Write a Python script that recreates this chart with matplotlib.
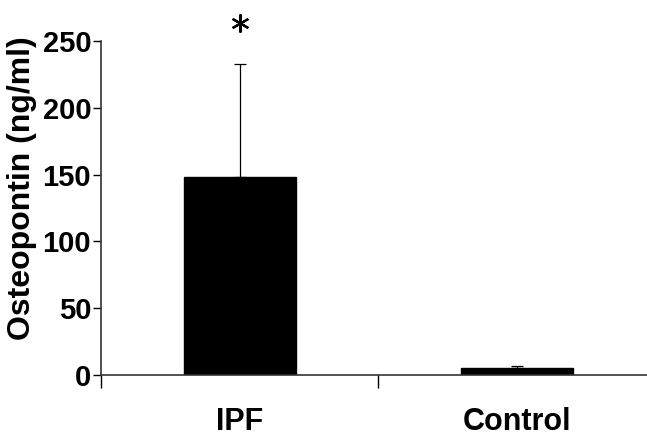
import matplotlib
matplotlib.use('Agg')
import matplotlib.pyplot as plt
import numpy as np

groups = ['IPF', 'Control']
means = [148.5, 5.2]
sd_upper = [84.0, 1.5]
star_group = 0
star_height = 263.5

plt.rcParams['font.family'] = ['Liberation Sans', 'DejaVu Sans']

fig = plt.figure(figsize=(6.47, 4.37), dpi=100)
ax = fig.add_axes([0.156, 0.142, 0.844, 0.764])

x = np.arange(len(groups))
ax.bar(x, means, width=0.405, color='black', edgecolor='black', zorder=2)
ax.errorbar(x, means, yerr=[np.zeros(len(means)), sd_upper], fmt='none',
            ecolor='black', elinewidth=0.9, capsize=4, capthick=0.9, zorder=3)

# significance star
ax.plot(x[star_group], star_height, marker=(6, 2, 0), ms=13, mew=1.6,
        color='black', clip_on=False)

ax.set_xlim(-0.502, 1.47)
ax.set_ylim(0, 250)
ax.set_yticks(np.arange(0, 251, 50))
ax.set_yticklabels([str(v) for v in range(0, 251, 50)], fontsize=21, fontweight='bold')
ax.set_xticks([-0.5, 0.5])
ax.set_xticklabels([])
ax.tick_params(axis='y', direction='out', length=6, width=1, pad=1)
ax.tick_params(axis='x', direction='out', length=9, width=1)

for i, g in enumerate(groups):
    ax.text(x[i], -35.5, g, ha='center', va='center', fontsize=22,
            fontweight='bold', clip_on=False)

ax.set_ylabel('Osteopontin (ng/ml)', fontsize=23, fontweight='bold')
ax.yaxis.set_label_coords(-0.117, 0.56)

for s in ['top', 'right']:
    ax.spines[s].set_visible(False)
for s in ['left', 'bottom']:
    ax.spines[s].set_color('#333333')
    ax.spines[s].set_linewidth(1.2)

fig.savefig('out.png', dpi=100)
